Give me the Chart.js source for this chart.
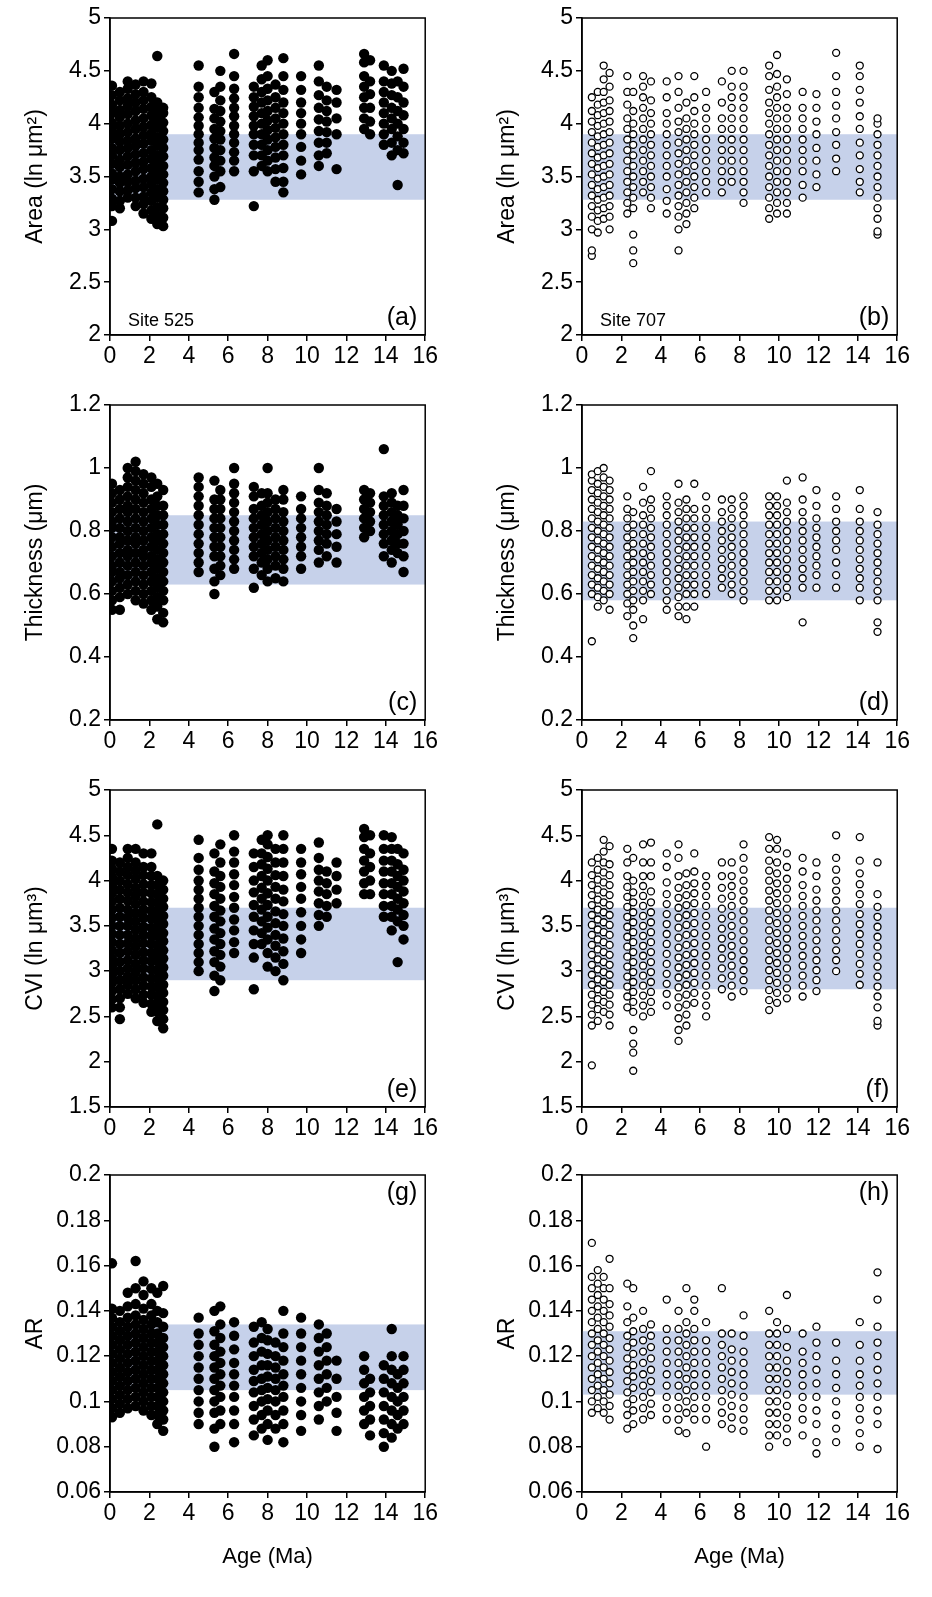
<!DOCTYPE html>
<html><head><meta charset="utf-8">
<script src="https://cdn.jsdelivr.net/npm/chart.js@4"></script>
<style>body{margin:0;background:#fff;width:932px;height:1597px;position:relative;overflow:hidden}canvas{position:absolute}</style>
</head><body>
<script>
// Each column: [age, value, value, ...]
const areaA=[[0.1,3.08,3.22,3.29,3.38,3.47,3.53,3.62,3.7,3.77,3.86,3.93,4.01,4.1,4.18,4.27,4.36],[0.5,3.2,3.27,3.36,3.44,3.5,3.59,3.66,3.75,3.83,3.9,3.98,4.06,4.13,4.22,4.3],[0.9,3.3,3.37,3.45,3.52,3.61,3.69,3.77,3.84,3.92,4.0,4.09,4.17,4.24,4.33,4.4],[1.3,3.22,3.3,3.39,3.46,3.55,3.63,3.71,3.79,3.86,3.95,4.03,4.12,4.2,4.28,4.37],[1.7,3.15,3.24,3.31,3.4,3.48,3.57,3.64,3.72,3.81,3.89,3.97,4.05,4.14,4.22,4.3,4.4],[2.1,3.1,3.18,3.27,3.35,3.43,3.5,3.58,3.67,3.75,3.84,3.91,3.99,4.08,4.16,4.25,4.38],[2.4,3.05,3.13,3.21,3.3,3.38,3.47,3.55,3.63,3.7,3.79,3.87,3.96,4.03,4.12,4.2,4.64],[2.7,3.03,3.11,3.2,3.28,3.36,3.44,3.52,3.6,3.69,3.77,3.85,3.93,4.01,4.1,4.15],[4.5,3.35,3.45,3.55,3.66,3.75,3.82,3.9,3.98,4.06,4.15,4.25,4.35,4.55],[5.3,3.28,3.38,3.5,3.6,3.68,3.77,3.86,3.95,4.05,4.14,4.3],[5.6,3.4,3.55,3.65,3.75,3.85,3.93,4.02,4.12,4.22,4.35,4.5],[6.3,3.55,3.65,3.73,3.82,3.9,3.98,4.07,4.15,4.24,4.33,4.45,4.66],[7.3,3.22,3.55,3.7,3.8,3.9,3.98,4.07,4.16,4.25,4.35],[7.7,3.6,3.7,3.8,3.9,4.0,4.1,4.2,4.3,4.42,4.55],[8.0,3.55,3.65,3.75,3.85,3.94,4.03,4.12,4.22,4.33,4.45,4.6],[8.4,3.45,3.57,3.68,3.78,3.87,3.96,4.05,4.15,4.25,4.37],[8.8,3.35,3.45,3.58,3.7,3.8,3.9,4.0,4.1,4.2,4.32,4.45,4.62],[9.7,3.52,3.65,3.78,3.9,4.0,4.1,4.2,4.32,4.45],[10.6,3.6,3.7,3.82,3.93,4.04,4.15,4.27,4.4,4.55],[11.0,3.72,3.82,3.92,4.02,4.12,4.22,4.35],[11.5,3.57,3.9,4.05,4.2,4.32],[12.9,3.95,4.05,4.15,4.25,4.35,4.45,4.58,4.66],[13.2,3.9,4.02,4.15,4.28,4.4,4.6],[13.9,3.8,3.9,4.0,4.1,4.2,4.3,4.4,4.55],[14.3,3.7,3.82,3.95,4.05,4.15,4.27,4.38,4.5],[14.6,3.42,3.75,3.88,4.0,4.12,4.25,4.4],[14.9,3.72,3.82,3.95,4.08,4.2,4.35,4.52]];
const thickC=[[0.1,0.55,0.58,0.61,0.64,0.67,0.69,0.72,0.75,0.78,0.81,0.83,0.86,0.89,0.92,0.95],[0.5,0.55,0.59,0.62,0.65,0.67,0.7,0.73,0.76,0.78,0.81,0.84,0.87,0.9,0.93],[0.9,0.6,0.63,0.66,0.69,0.72,0.74,0.77,0.8,0.83,0.86,0.88,0.91,0.94,0.97,1.0],[1.3,0.58,0.61,0.64,0.67,0.7,0.73,0.76,0.78,0.81,0.84,0.87,0.9,0.93,0.96,0.99,1.02],[1.7,0.57,0.6,0.63,0.66,0.69,0.72,0.74,0.77,0.8,0.83,0.86,0.89,0.92,0.95,0.98],[2.1,0.55,0.58,0.61,0.64,0.67,0.7,0.72,0.75,0.78,0.81,0.84,0.87,0.9,0.94,0.97],[2.4,0.52,0.56,0.59,0.62,0.65,0.68,0.71,0.74,0.77,0.79,0.82,0.85,0.88,0.91,0.95],[2.7,0.51,0.54,0.58,0.61,0.64,0.67,0.7,0.73,0.76,0.79,0.82,0.85,0.88,0.93],[4.5,0.67,0.7,0.73,0.76,0.79,0.82,0.85,0.88,0.91,0.94,0.97],[5.3,0.6,0.64,0.68,0.72,0.75,0.78,0.81,0.84,0.87,0.9,0.96],[5.6,0.66,0.69,0.72,0.75,0.78,0.81,0.84,0.87,0.9,0.93],[6.3,0.68,0.71,0.74,0.77,0.8,0.83,0.86,0.89,0.92,0.95,1.0],[7.3,0.62,0.68,0.72,0.75,0.78,0.81,0.84,0.87,0.91,0.94],[7.7,0.66,0.7,0.73,0.76,0.79,0.82,0.85,0.88,0.92],[8.0,0.64,0.68,0.71,0.74,0.77,0.8,0.83,0.86,0.89,0.92,1.0],[8.4,0.65,0.69,0.72,0.75,0.78,0.81,0.84,0.87,0.9],[8.8,0.64,0.68,0.71,0.74,0.77,0.8,0.83,0.86,0.9,0.93],[9.7,0.68,0.72,0.75,0.78,0.81,0.84,0.87,0.91],[10.6,0.7,0.74,0.77,0.8,0.83,0.86,0.89,0.93,1.0],[11.0,0.72,0.76,0.79,0.82,0.85,0.88,0.92],[11.5,0.7,0.75,0.79,0.83,0.87],[12.9,0.78,0.81,0.84,0.87,0.9,0.93],[13.2,0.8,0.83,0.86,0.89,0.92],[13.9,0.72,0.76,0.79,0.82,0.85,0.88,0.91,1.06],[14.3,0.7,0.74,0.77,0.8,0.83,0.86,0.89,0.92],[14.6,0.73,0.76,0.79,0.82,0.85,0.88],[14.9,0.67,0.72,0.76,0.8,0.84,0.88,0.93]];
const cviE=[[0.1,2.6,2.69,2.78,2.87,2.96,3.05,3.14,3.23,3.32,3.41,3.5,3.59,3.68,3.77,3.86,3.95,4.04,4.13,4.22,4.35],[0.5,2.47,2.6,2.7,2.8,2.9,3.0,3.1,3.2,3.3,3.4,3.5,3.6,3.7,3.8,3.9,4.0,4.1,4.2],[0.9,2.75,2.85,2.94,3.03,3.12,3.22,3.31,3.4,3.5,3.59,3.68,3.78,3.87,3.96,4.06,4.15,4.25,4.35],[1.3,2.7,2.8,2.9,2.99,3.08,3.18,3.27,3.36,3.46,3.55,3.64,3.74,3.83,3.92,4.02,4.11,4.2,4.35],[1.7,2.65,2.74,2.84,2.93,3.03,3.12,3.21,3.31,3.4,3.49,3.59,3.68,3.77,3.87,3.96,4.06,4.15,4.3],[2.1,2.55,2.64,2.74,2.83,2.92,3.02,3.11,3.2,3.3,3.39,3.48,3.58,3.67,3.76,3.86,3.95,4.05,4.15,4.3],[2.4,2.45,2.55,2.64,2.73,2.83,2.92,3.01,3.11,3.2,3.29,3.39,3.48,3.57,3.67,3.76,3.85,3.95,4.05,4.62],[2.7,2.37,2.47,2.57,2.66,2.76,2.85,2.95,3.04,3.14,3.23,3.33,3.42,3.52,3.61,3.71,3.8,3.9,4.0],[4.5,3.0,3.1,3.2,3.3,3.4,3.5,3.6,3.7,3.8,3.9,4.0,4.12,4.25,4.45],[5.3,2.78,2.95,3.1,3.22,3.35,3.47,3.6,3.72,3.85,3.97,4.1,4.3],[5.6,2.9,3.05,3.18,3.3,3.42,3.55,3.67,3.8,3.93,4.05,4.2,4.4],[6.3,3.2,3.32,3.45,3.57,3.7,3.82,3.95,4.07,4.2,4.32,4.5],[7.3,2.8,3.15,3.3,3.45,3.6,3.73,3.87,4.0,4.15,4.3],[7.7,3.3,3.42,3.55,3.68,3.8,3.92,4.05,4.18,4.3,4.45],[8.0,3.05,3.2,3.35,3.48,3.6,3.73,3.86,4.0,4.13,4.26,4.4,4.5],[8.4,3.0,3.15,3.28,3.4,3.53,3.66,3.8,3.93,4.06,4.2,4.35],[8.8,2.9,3.08,3.22,3.36,3.5,3.63,3.77,3.9,4.05,4.2,4.35,4.5],[9.7,3.2,3.35,3.5,3.65,3.8,3.93,4.07,4.2,4.35],[10.6,3.5,3.62,3.75,3.88,4.0,4.12,4.25,4.42],[11.0,3.6,3.72,3.85,3.97,4.1],[11.5,3.75,3.9,4.05,4.2],[12.9,3.85,3.97,4.1,4.22,4.35,4.48,4.57],[13.2,3.85,4.0,4.15,4.3,4.5],[13.9,3.6,3.72,3.85,3.97,4.1,4.22,4.35,4.5],[14.3,3.45,3.6,3.72,3.85,3.97,4.1,4.22,4.35,4.48],[14.6,3.1,3.55,3.68,3.8,3.93,4.05,4.18,4.35],[14.9,3.35,3.5,3.62,3.75,3.88,4.0,4.12,4.3]];
const arG=[[0.1,0.093,0.097,0.101,0.105,0.109,0.113,0.117,0.121,0.125,0.129,0.133,0.137,0.141,0.161],[0.5,0.095,0.099,0.103,0.107,0.111,0.115,0.119,0.123,0.127,0.131,0.135,0.14],[0.9,0.097,0.101,0.105,0.109,0.113,0.117,0.121,0.125,0.129,0.133,0.137,0.142,0.148],[1.3,0.098,0.102,0.106,0.11,0.114,0.118,0.122,0.126,0.13,0.134,0.138,0.143,0.15,0.162],[1.7,0.096,0.1,0.104,0.108,0.112,0.116,0.12,0.124,0.128,0.132,0.136,0.141,0.147,0.153],[2.1,0.094,0.098,0.102,0.106,0.11,0.114,0.118,0.122,0.126,0.13,0.134,0.138,0.143,0.15],[2.4,0.09,0.094,0.098,0.102,0.106,0.11,0.114,0.118,0.122,0.126,0.13,0.135,0.14,0.148],[2.7,0.087,0.092,0.096,0.1,0.104,0.108,0.112,0.116,0.12,0.124,0.128,0.133,0.139,0.151],[4.5,0.09,0.095,0.1,0.105,0.11,0.115,0.12,0.125,0.13,0.137],[5.3,0.08,0.088,0.095,0.1,0.105,0.11,0.115,0.12,0.125,0.131,0.14],[5.6,0.09,0.096,0.102,0.107,0.112,0.117,0.122,0.128,0.134,0.142],[6.3,0.082,0.09,0.096,0.102,0.107,0.112,0.117,0.123,0.129,0.135],[7.3,0.085,0.092,0.098,0.104,0.109,0.114,0.12,0.126,0.133],[7.7,0.088,0.094,0.1,0.105,0.11,0.116,0.122,0.128,0.135],[8.0,0.083,0.09,0.096,0.101,0.106,0.111,0.116,0.121,0.127,0.132],[8.4,0.088,0.094,0.1,0.105,0.11,0.115,0.12,0.126],[8.8,0.082,0.09,0.096,0.102,0.107,0.112,0.118,0.124,0.13,0.14],[9.7,0.087,0.094,0.1,0.106,0.112,0.118,0.124,0.13,0.137],[10.6,0.092,0.098,0.104,0.11,0.116,0.122,0.128,0.134],[11.0,0.1,0.106,0.112,0.118,0.124,0.13],[11.5,0.087,0.095,0.102,0.11,0.118],[12.9,0.09,0.096,0.102,0.108,0.114,0.12],[13.2,0.085,0.092,0.098,0.104,0.11],[13.9,0.08,0.086,0.092,0.098,0.104,0.11,0.116],[14.3,0.084,0.09,0.096,0.102,0.108,0.114,0.12,0.132],[14.6,0.088,0.094,0.1,0.106,0.112],[14.9,0.09,0.096,0.102,0.108,0.114,0.12]];
const areaB=[[0.5,2.75,2.8,3.0,3.12,3.22,3.32,3.42,3.52,3.62,3.72,3.82,3.92,4.02,4.12,4.25],[0.8,2.97,3.08,3.18,3.28,3.38,3.48,3.58,3.68,3.78,3.88,3.98,4.08,4.18,4.3],[1.1,3.1,3.2,3.3,3.4,3.5,3.6,3.7,3.8,3.9,4.0,4.1,4.2,4.3,4.42,4.55],[1.4,3.0,3.12,3.22,3.32,3.42,3.52,3.62,3.72,3.82,3.92,4.02,4.12,4.22,4.35,4.48],[2.3,3.15,3.25,3.35,3.45,3.55,3.65,3.75,3.85,3.95,4.05,4.18,4.3,4.45],[2.6,2.68,2.8,2.95,3.2,3.3,3.4,3.5,3.6,3.7,3.8,3.9,4.0,4.12,4.3],[3.1,3.35,3.45,3.55,3.65,3.75,3.85,3.95,4.05,4.15,4.25,4.35,4.45],[3.5,3.2,3.3,3.4,3.5,3.6,3.7,3.8,3.9,4.0,4.1,4.22,4.4],[4.3,3.15,3.27,3.38,3.5,3.6,3.7,3.8,3.9,4.0,4.1,4.25,4.4],[4.9,2.8,3.0,3.12,3.22,3.32,3.42,3.52,3.62,3.72,3.82,3.92,4.02,4.15,4.3,4.45],[5.3,3.05,3.15,3.25,3.35,3.45,3.55,3.65,3.75,3.85,3.95,4.05,4.2],[5.7,3.2,3.3,3.4,3.5,3.6,3.7,3.8,3.9,4.0,4.12,4.25,4.45],[6.3,3.35,3.45,3.55,3.65,3.75,3.85,3.95,4.05,4.15,4.3],[7.1,3.35,3.45,3.55,3.65,3.75,3.85,3.95,4.05,4.2,4.4],[7.6,3.45,3.55,3.65,3.75,3.85,3.95,4.05,4.15,4.25,4.35,4.5],[8.2,3.25,3.35,3.45,3.55,3.65,3.75,3.85,3.95,4.05,4.15,4.25,4.35,4.5],[9.5,3.1,3.2,3.3,3.4,3.5,3.6,3.7,3.8,3.9,4.0,4.1,4.2,4.32,4.45,4.55],[9.9,3.15,3.25,3.35,3.45,3.55,3.65,3.75,3.85,3.95,4.05,4.15,4.25,4.35,4.47,4.65],[10.4,3.15,3.25,3.35,3.45,3.55,3.65,3.75,3.85,3.95,4.05,4.15,4.28,4.42],[11.2,3.3,3.42,3.55,3.65,3.75,3.85,3.95,4.05,4.15,4.3],[11.9,3.4,3.52,3.65,3.77,3.9,4.02,4.15,4.28],[12.9,3.55,3.67,3.8,3.92,4.05,4.17,4.3,4.45,4.67],[14.1,3.35,3.45,3.57,3.7,3.82,3.95,4.07,4.2,4.32,4.45,4.55],[15.0,2.95,2.98,3.1,3.2,3.3,3.4,3.5,3.6,3.7,3.8,3.9,4.0,4.05]];
const thickD=[[0.5,0.45,0.6,0.63,0.66,0.69,0.72,0.75,0.78,0.81,0.84,0.87,0.9,0.93,0.96,0.98],[0.8,0.56,0.59,0.62,0.65,0.68,0.71,0.74,0.77,0.8,0.83,0.86,0.89,0.92,0.95,0.99],[1.1,0.58,0.61,0.64,0.67,0.7,0.73,0.76,0.79,0.82,0.85,0.88,0.91,0.94,0.97,1.0],[1.4,0.55,0.6,0.63,0.66,0.69,0.72,0.75,0.78,0.81,0.84,0.87,0.9,0.93,0.96],[2.3,0.53,0.57,0.6,0.63,0.66,0.69,0.72,0.75,0.78,0.81,0.84,0.87,0.91],[2.6,0.46,0.5,0.55,0.58,0.61,0.64,0.67,0.7,0.73,0.76,0.79,0.82,0.86],[3.1,0.52,0.58,0.61,0.64,0.67,0.7,0.73,0.76,0.79,0.82,0.85,0.89,0.94],[3.5,0.6,0.63,0.66,0.69,0.72,0.75,0.78,0.81,0.84,0.87,0.9,0.99],[4.3,0.55,0.58,0.61,0.64,0.67,0.7,0.73,0.76,0.79,0.82,0.85,0.88,0.91],[4.9,0.53,0.56,0.59,0.62,0.65,0.68,0.71,0.74,0.77,0.8,0.83,0.86,0.89,0.95],[5.3,0.52,0.56,0.6,0.63,0.66,0.69,0.72,0.75,0.78,0.81,0.84,0.87,0.9],[5.7,0.56,0.6,0.63,0.66,0.69,0.72,0.75,0.78,0.81,0.84,0.87,0.95],[6.3,0.6,0.63,0.66,0.69,0.72,0.75,0.78,0.81,0.84,0.87,0.91],[7.1,0.62,0.65,0.68,0.71,0.74,0.77,0.8,0.83,0.86,0.9],[7.6,0.6,0.63,0.66,0.69,0.72,0.75,0.78,0.81,0.84,0.87,0.9],[8.2,0.58,0.61,0.64,0.67,0.7,0.73,0.76,0.79,0.82,0.85,0.88,0.91],[9.5,0.58,0.61,0.64,0.67,0.7,0.73,0.76,0.79,0.82,0.85,0.88,0.91],[9.9,0.58,0.61,0.64,0.67,0.7,0.73,0.76,0.79,0.82,0.85,0.88,0.91],[10.4,0.59,0.62,0.65,0.68,0.71,0.74,0.77,0.8,0.83,0.86,0.89,0.96],[11.2,0.51,0.62,0.65,0.68,0.71,0.74,0.77,0.8,0.83,0.86,0.9,0.97],[11.9,0.62,0.66,0.69,0.72,0.75,0.78,0.81,0.84,0.88,0.93],[12.9,0.62,0.66,0.7,0.74,0.77,0.8,0.83,0.87,0.91],[14.1,0.58,0.62,0.65,0.68,0.71,0.74,0.77,0.8,0.83,0.87,0.93],[15.0,0.48,0.51,0.58,0.61,0.64,0.67,0.7,0.73,0.76,0.79,0.82,0.86]];
const cviF=[[0.5,1.96,2.4,2.52,2.63,2.74,2.85,2.96,3.07,3.18,3.29,3.4,3.51,3.62,3.73,3.84,3.95,4.06,4.2],[0.8,2.45,2.58,2.69,2.8,2.91,3.02,3.13,3.24,3.35,3.46,3.57,3.68,3.79,3.9,4.01,4.12,4.25],[1.1,2.55,2.66,2.77,2.88,2.99,3.1,3.21,3.32,3.43,3.54,3.65,3.76,3.87,3.98,4.09,4.2,4.32,4.45],[1.4,2.4,2.52,2.63,2.74,2.85,2.96,3.07,3.18,3.29,3.4,3.51,3.62,3.73,3.84,3.95,4.06,4.18,4.38],[2.3,2.6,2.72,2.83,2.94,3.05,3.16,3.27,3.38,3.49,3.6,3.71,3.82,3.93,4.05,4.2,4.35],[2.6,1.9,2.1,2.2,2.35,2.55,2.66,2.77,2.88,2.99,3.1,3.21,3.32,3.43,3.54,3.65,3.76,3.87,4.0,4.25],[3.1,2.5,2.62,2.73,2.84,2.95,3.06,3.17,3.28,3.39,3.5,3.61,3.72,3.83,3.94,4.05,4.2,4.4],[3.5,2.55,2.66,2.77,2.88,2.99,3.1,3.21,3.32,3.43,3.54,3.65,3.76,3.88,4.05,4.2,4.42],[4.3,2.62,2.75,2.86,2.97,3.08,3.19,3.3,3.41,3.52,3.63,3.74,3.85,3.98,4.15,4.3],[4.9,2.23,2.35,2.48,2.6,2.71,2.82,2.93,3.04,3.15,3.26,3.37,3.48,3.59,3.7,3.81,3.92,4.05,4.25,4.4],[5.3,2.4,2.52,2.63,2.74,2.85,2.96,3.07,3.18,3.29,3.4,3.51,3.62,3.73,3.84,3.95,4.08],[5.7,2.65,2.76,2.87,2.98,3.09,3.2,3.31,3.42,3.53,3.64,3.75,3.86,3.97,4.1,4.3],[6.3,2.5,2.62,2.73,2.84,2.95,3.06,3.17,3.28,3.39,3.5,3.61,3.72,3.83,3.94,4.05],[7.1,2.8,2.92,3.03,3.14,3.25,3.36,3.47,3.58,3.69,3.8,3.92,4.05,4.2],[7.6,2.72,2.84,2.95,3.06,3.17,3.28,3.39,3.5,3.61,3.72,3.83,3.94,4.05,4.2],[8.2,2.78,2.9,3.01,3.12,3.23,3.34,3.45,3.56,3.67,3.78,3.89,4.0,4.12,4.25,4.4],[9.5,2.57,2.68,2.79,2.9,3.01,3.12,3.23,3.34,3.45,3.56,3.67,3.78,3.89,4.0,4.11,4.22,4.35,4.48],[9.9,2.65,2.76,2.87,2.98,3.09,3.2,3.31,3.42,3.53,3.64,3.75,3.86,3.97,4.08,4.2,4.35,4.45],[10.4,2.7,2.81,2.92,3.03,3.14,3.25,3.36,3.47,3.58,3.69,3.8,3.91,4.02,4.15,4.3],[11.2,2.72,2.84,2.95,3.06,3.17,3.28,3.39,3.5,3.61,3.72,3.83,3.95,4.1,4.25],[11.9,2.78,2.9,3.01,3.12,3.23,3.34,3.45,3.56,3.67,3.78,3.9,4.05,4.2],[12.9,3.0,3.12,3.23,3.34,3.45,3.56,3.67,3.78,3.89,4.0,4.12,4.25,4.5],[14.1,2.85,2.97,3.08,3.19,3.3,3.41,3.52,3.63,3.74,3.85,3.96,4.08,4.22,4.48],[15.0,2.4,2.45,2.6,2.72,2.83,2.94,3.05,3.16,3.27,3.38,3.49,3.6,3.71,3.85,4.2]];
const arH=[[0.5,0.095,0.1,0.105,0.11,0.115,0.12,0.125,0.13,0.135,0.14,0.145,0.15,0.155,0.17],[0.8,0.097,0.102,0.107,0.112,0.117,0.122,0.127,0.132,0.137,0.142,0.147,0.152,0.158],[1.1,0.095,0.1,0.105,0.11,0.115,0.12,0.125,0.13,0.135,0.14,0.145,0.15,0.155],[1.4,0.092,0.098,0.103,0.108,0.113,0.118,0.123,0.128,0.133,0.138,0.143,0.15,0.163],[2.3,0.088,0.094,0.099,0.104,0.109,0.114,0.119,0.124,0.129,0.135,0.142,0.152],[2.6,0.09,0.096,0.101,0.106,0.111,0.116,0.121,0.126,0.131,0.137,0.15],[3.1,0.092,0.097,0.102,0.107,0.112,0.117,0.122,0.127,0.132,0.14],[3.5,0.094,0.099,0.104,0.109,0.114,0.119,0.124,0.129,0.134],[4.3,0.092,0.097,0.102,0.107,0.112,0.117,0.122,0.127,0.132,0.145],[4.9,0.087,0.092,0.097,0.102,0.107,0.112,0.117,0.122,0.127,0.132,0.14],[5.3,0.086,0.095,0.1,0.105,0.11,0.115,0.12,0.125,0.13,0.135,0.15],[5.7,0.092,0.097,0.102,0.107,0.112,0.117,0.122,0.127,0.132,0.14,0.145],[6.3,0.08,0.092,0.097,0.102,0.107,0.112,0.117,0.122,0.127,0.135],[7.1,0.09,0.095,0.1,0.105,0.11,0.115,0.12,0.125,0.13,0.15],[7.6,0.088,0.093,0.098,0.103,0.108,0.113,0.118,0.123,0.13],[8.2,0.087,0.092,0.097,0.102,0.107,0.112,0.117,0.122,0.129,0.138],[9.5,0.08,0.085,0.09,0.095,0.1,0.105,0.11,0.115,0.12,0.125,0.13,0.14],[9.9,0.085,0.09,0.095,0.1,0.105,0.11,0.115,0.12,0.125,0.13,0.135],[10.4,0.082,0.088,0.093,0.098,0.103,0.108,0.113,0.118,0.124,0.132,0.147],[11.2,0.085,0.092,0.097,0.102,0.107,0.112,0.117,0.122,0.13],[11.9,0.077,0.082,0.09,0.096,0.102,0.108,0.114,0.12,0.126,0.133],[12.9,0.082,0.088,0.094,0.1,0.106,0.112,0.118,0.126],[14.1,0.08,0.086,0.092,0.097,0.102,0.107,0.112,0.118,0.125,0.135],[15.0,0.079,0.09,0.096,0.102,0.108,0.114,0.12,0.126,0.133,0.145,0.157]];

// blue bands [low, high]
const bands={a:[3.28,3.9],b:[3.28,3.9],c:[0.63,0.85],d:[0.58,0.83],e:[2.9,3.7],f:[2.8,3.7],g:[0.105,0.134],h:[0.103,0.131]};
const yRanges={area:[2,5,0.5],thick:[0.2,1.2,0.2],cvi:[1.5,5,0.5],ar:[0.06,0.2,0.02]};
const yTitles={area:'Area (ln μm²)',thick:'Thickness (μm)',cvi:'CVI (ln μm³)',ar:'AR'};
const xTicks=[0,16,2];

const panels=[
 {id:'a',data:areaA,q:'area',col:0,row:0,filled:true,site:'Site 525',lblTop:false},
 {id:'b',data:areaB,q:'area',col:1,row:0,filled:false,site:'Site 707',lblTop:false},
 {id:'c',data:thickC,q:'thick',col:0,row:1,filled:true,lblTop:false},
 {id:'d',data:thickD,q:'thick',col:1,row:1,filled:false,lblTop:false},
 {id:'e',data:cviE,q:'cvi',col:0,row:2,filled:true,lblTop:false},
 {id:'f',data:cviF,q:'cvi',col:1,row:2,filled:false,lblTop:false},
 {id:'g',data:arG,q:'ar',col:0,row:3,filled:true,lblTop:true},
 {id:'h',data:arH,q:'ar',col:1,row:3,filled:false,lblTop:true}
];
const rowTop=[18,405,790,1175], rowH=[317,315,317,317];
const colLeft=[0,472], canvasW=440;
const FONT='"Liberation Sans", Arial, sans-serif';

const decor={id:'decor',
 beforeDatasetsDraw(c){const o=c.options.plugins.decor;const a=c.chartArea,y=c.scales.y,ctx=c.ctx;
  const t=y.getPixelForValue(o.band[1]),b=y.getPixelForValue(o.band[0]);
  ctx.save();ctx.fillStyle='#c6d1ea';ctx.fillRect(a.left,t,a.right-a.left,b-t);ctx.restore();},
 afterDraw(c){const o=c.options.plugins.decor;const a=c.chartArea,ctx=c.ctx;ctx.save();
  ctx.strokeStyle='#000';ctx.lineWidth=1.5;ctx.strokeRect(a.left,a.top,a.right-a.left,a.bottom-a.top);
  ctx.fillStyle='#000';ctx.font='25px '+FONT;ctx.textAlign='right';
  if(o.lblTop){ctx.textBaseline='top';ctx.fillText('('+o.id+')',a.right-8,a.top+6);}
  else{ctx.textBaseline='bottom';ctx.fillText('('+o.id+')',a.right-8,a.bottom-4);}
  if(o.site){ctx.font='18px '+FONT;ctx.textAlign='left';ctx.textBaseline='bottom';ctx.fillText(o.site,a.left+18,a.bottom-5);}
  ctx.restore();}};

const fmt=v=>String(+Number(v).toFixed(3));

panels.forEach(p=>{
 const last=p.row===3;const xH=last?82:52;
 const cv=document.createElement('canvas');
 const H=18+rowH[p.row]+xH;
 cv.width=canvasW;cv.height=H;cv.style.left=colLeft[p.col]+'px';cv.style.top=(rowTop[p.row]-18)+'px';
 cv.style.width=canvasW+'px';cv.style.height=H+'px';
 document.body.appendChild(cv);
 const pts=p.data.flatMap(c=>c.slice(1).map(v=>({x:c[0],y:v})));
 const yr=yRanges[p.q];
 new Chart(cv,{type:'scatter',
  data:{datasets:[{data:pts,pointRadius:p.filled?5.2:3.5,borderWidth:p.filled?0:1.3,
    backgroundColor:p.filled?'#000':'#fff',borderColor:'#000',pointHoverRadius:0}]},
  options:{responsive:false,animation:false,devicePixelRatio:1,
   layout:{padding:{top:18,right:canvasW-(p.col===0?428:898-472),left:0,bottom:0}},
   plugins:{legend:{display:false},tooltip:{enabled:false},decor:{band:bands[p.id],id:p.id,site:p.site,lblTop:p.lblTop}},
   scales:{
    x:{type:'linear',min:xTicks[0],max:xTicks[1],
     ticks:{stepSize:xTicks[2],color:'#000',font:{size:23,family:FONT},padding:2,maxRotation:0,callback:fmt},
     grid:{drawOnChartArea:false,drawTicks:true,tickLength:6,color:'#000',lineWidth:1.5},
     border:{color:'#000',width:1.5},
     title:{display:last,text:'Age (Ma)',color:'#000',font:{size:22,family:FONT},padding:{top:0}},
     afterFit(s){s.height=xH;}},
    y:{type:'linear',min:yr[0],max:yr[1],
     ticks:{stepSize:yr[2],color:'#000',font:{size:23,family:FONT},padding:3,callback:fmt},
     grid:{drawOnChartArea:false,drawTicks:true,tickLength:6,color:'#000',lineWidth:1.5},
     border:{color:'#000',width:1.5},
     title:{display:true,text:yTitles[p.q],color:'#000',font:{size:23,family:FONT},padding:{top:22,bottom:0}},
     afterFit(s){s.width=110;}}}},
  plugins:[decor]});
});
</script>
</body></html>
